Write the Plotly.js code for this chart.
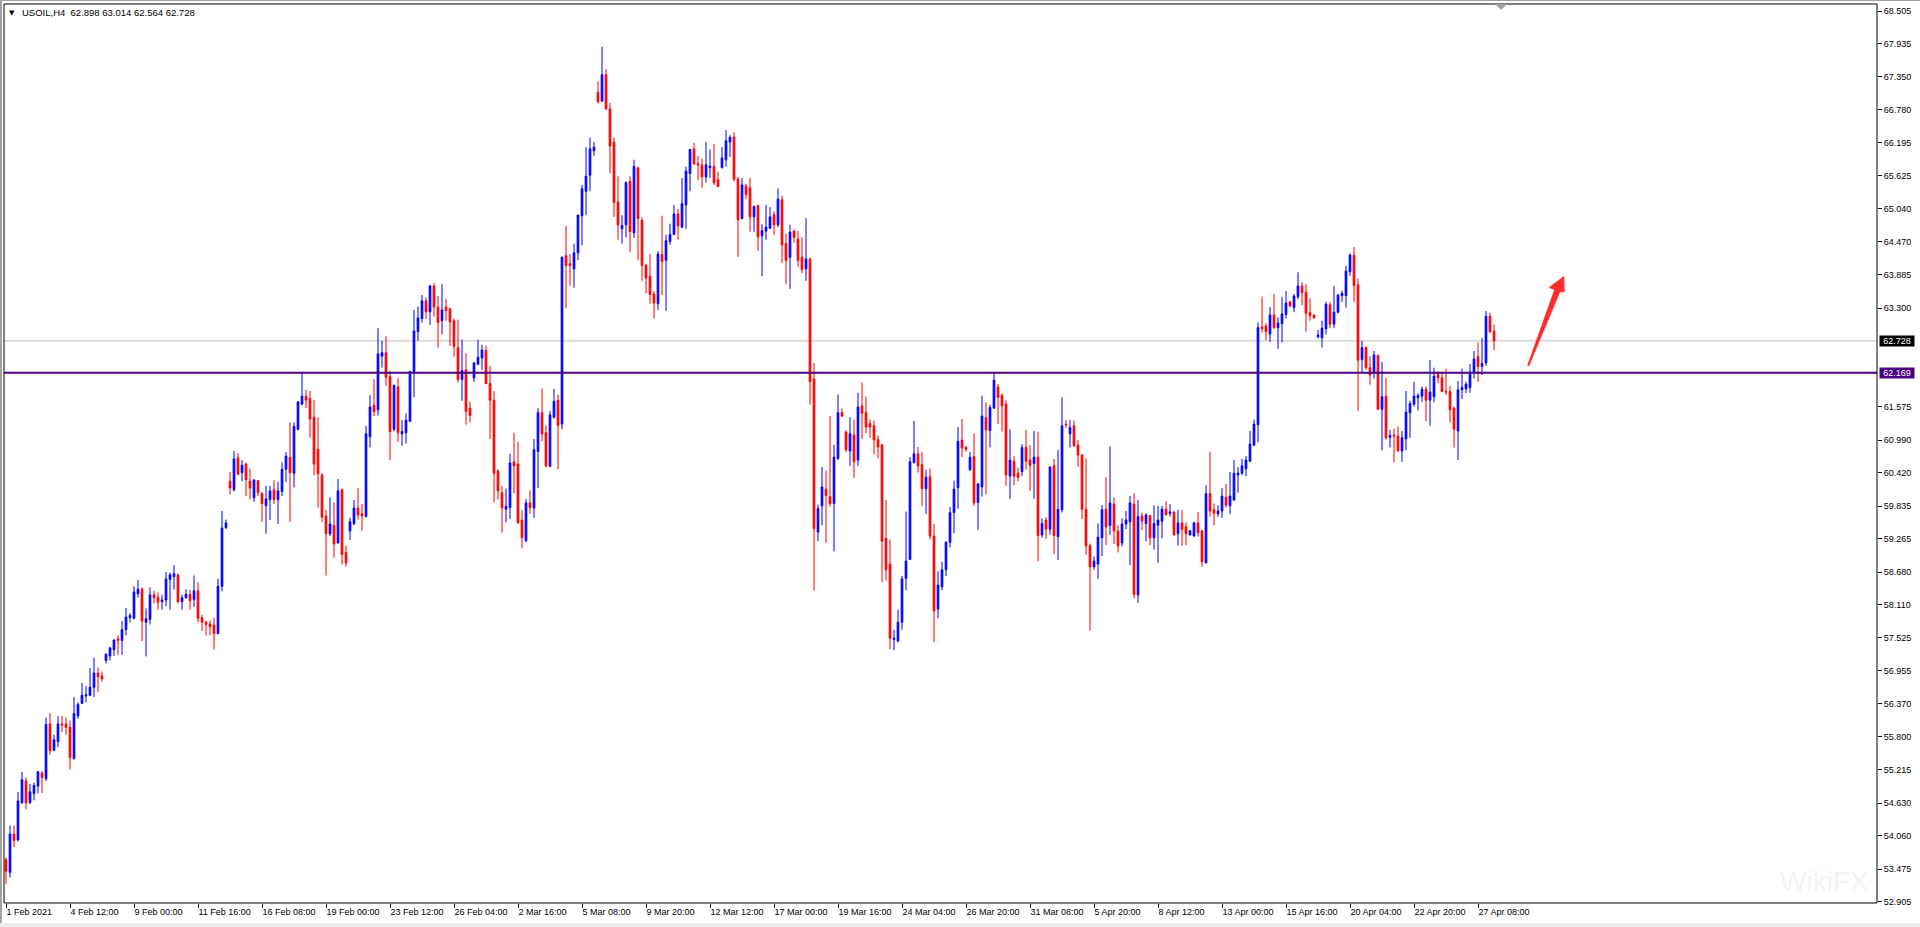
<!DOCTYPE html>
<html>
<head>
<meta charset="utf-8">
<script src="https://cdn.plot.ly/plotly-3.0.1.min.js"></script>
<style>
html,body{margin:0;padding:0;background:#ffffff;overflow:hidden;}
#chart{width:1920px;height:927px;}
</style>
</head>
<body>
<div id="chart"></div>
<script>
// ---- chart data (USOIL, H4 candles) ----
const symbolName = "USOIL,H4";

const openPrices = [
53.64,53.42,54.09,53.99,54.64,55.02,54.64,54.80,54.93,55.16,
55.06,56.02,55.56,55.71,56.02,56.02,55.96,55.41,56.16,56.38,
56.51,56.52,56.66,56.91,56.86,57.13,57.21,57.32,57.51,57.48,
57.67,57.88,57.87,58.30,58.38,57.80,57.85,58.28,58.24,58.16,
58.19,58.55,58.60,58.63,58.16,58.23,58.28,58.20,58.35,57.88,
57.80,57.77,57.75,57.60,58.43,59.46,60.27,60.12,60.68,60.42,
60.57,60.27,59.98,60.28,60.06,59.84,59.95,60.12,59.95,60.09,
60.48,60.69,60.41,61.18,61.62,61.76,61.72,61.39,60.83,60.38,
59.66,59.35,59.50,59.19,60.12,59.02,59.40,59.53,59.80,59.70,
59.65,61.05,61.60,61.52,62.46,62.52,62.10,61.18,61.92,61.10,
61.12,61.32,62.19,62.89,63.12,63.43,63.24,63.69,63.32,63.08,
63.32,63.29,63.08,62.61,62.05,62.22,61.55,62.08,62.32,62.43,
62.56,61.98,61.69,60.45,60.07,59.78,59.81,60.61,60.57,59.59,
59.23,59.89,59.80,60.79,61.47,61.12,60.53,61.39,61.69,61.27,
64.22,64.08,63.99,64.27,64.92,65.35,65.63,66.06,67.08,66.93,
67.39,66.79,66.21,65.16,64.69,64.76,65.52,64.62,65.76,64.84,
64.05,63.86,63.55,63.38,64.24,64.14,64.47,64.59,64.95,64.72,
65.11,65.66,66.09,65.83,65.81,65.60,65.76,65.78,65.55,65.76,
65.90,66.21,66.30,65.56,64.87,65.44,65.41,64.90,65.10,64.57,
64.65,64.70,64.94,64.76,65.20,64.43,64.19,64.65,64.51,64.19,
63.99,64.16,62.06,59.38,59.84,60.13,60.00,59.88,60.67,61.47,
61.13,60.80,61.08,60.64,61.59,61.47,61.28,61.24,61.00,60.91,
59.27,58.82,57.50,57.47,57.80,58.57,58.90,60.60,60.75,60.56,
60.14,60.35,59.31,58.03,58.42,58.72,59.20,59.72,60.16,60.99,
60.86,60.47,60.70,59.90,60.17,61.38,61.16,61.55,61.92,61.77,
61.62,60.36,60.62,60.41,60.44,60.86,60.64,60.58,60.69,59.33,
59.59,59.43,60.54,59.30,59.77,61.27,61.10,61.24,60.90,60.73,
59.78,59.14,58.77,58.82,59.28,59.78,59.49,59.87,59.40,59.19,
59.52,59.56,59.87,58.28,59.66,59.53,59.67,59.28,59.50,59.57,
59.78,59.70,59.73,59.35,59.54,59.47,59.33,59.31,59.54,59.40,
58.84,60.05,59.77,59.70,59.75,59.99,59.84,59.94,60.38,60.41,
60.49,60.62,60.90,61.26,62.97,62.99,62.85,63.18,62.96,63.03,
63.19,63.41,63.31,63.50,63.69,63.58,63.22,63.18,62.80,62.78,
62.94,63.36,63.02,63.23,63.52,63.52,63.94,64.23,63.71,62.40,
62.61,62.26,62.17,62.47,61.53,61.76,61.04,61.08,61.06,60.80,
61.01,61.47,61.62,61.73,61.76,61.88,61.69,61.75,62.14,62.08,
61.84,61.84,61.55,61.15,61.87,61.89,61.91,62.17,62.45,62.28,
62.34,63.16,62.898
];

const highPrices = [
53.68,54.24,54.24,54.83,55.18,55.08,54.97,54.99,55.19,55.19,
56.13,56.21,55.83,56.16,56.16,56.13,56.08,56.49,56.40,56.74,
56.68,57.00,57.18,57.01,56.94,57.25,57.37,57.50,57.57,57.82,
58.05,57.96,58.43,58.54,58.41,58.04,58.41,58.35,58.32,58.28,
58.68,58.67,58.80,58.65,58.28,58.38,58.37,58.62,58.50,57.93,
57.83,57.83,57.88,58.56,59.75,59.60,60.43,60.80,60.76,60.64,
60.60,60.49,60.31,60.29,60.07,60.19,60.19,60.29,60.26,60.60,
60.78,61.30,61.30,61.67,62.19,61.87,61.85,61.69,61.39,60.41,
59.77,59.99,59.90,60.31,60.14,59.14,59.63,59.94,60.15,59.87,
61.24,61.78,62.06,62.95,62.73,62.81,62.20,61.96,62.08,61.34,
61.46,62.20,63.27,63.33,63.53,63.49,63.71,63.74,63.51,63.72,
63.46,63.31,63.12,63.10,62.75,62.51,61.66,62.36,62.75,62.66,
62.64,62.29,61.85,60.48,60.19,60.14,60.75,61.12,60.96,59.76,
59.96,60.11,61.01,61.55,61.89,61.25,61.50,61.89,61.79,64.21,
64.74,64.25,64.43,64.94,65.46,66.12,66.29,66.21,67.27,67.88,
67.49,66.90,66.29,65.61,64.93,65.52,65.61,65.90,65.78,64.89,
64.08,64.25,63.60,64.30,64.92,64.59,64.78,65.11,65.04,65.58,
65.78,66.09,66.20,65.97,65.92,66.21,66.08,66.18,65.69,66.12,
66.42,66.33,66.38,65.60,65.58,65.48,65.58,65.10,65.11,64.77,
65.11,65.07,65.00,65.40,65.27,64.61,64.76,64.68,64.65,64.54,
64.88,64.19,62.34,59.86,60.52,60.46,61.41,60.91,61.79,61.54,
61.16,61.39,61.35,61.82,62.00,61.75,61.35,61.33,61.07,60.92,
59.94,59.25,57.67,58.02,58.61,59.74,60.69,61.33,60.87,60.78,
60.47,60.49,59.52,58.69,58.86,59.22,59.82,60.28,61.22,61.36,
60.89,60.78,61.11,60.24,61.77,61.65,61.61,62.17,61.97,61.81,
61.69,61.18,60.71,60.51,60.92,61.17,60.90,61.15,61.13,59.62,
59.64,60.53,60.66,60.82,61.74,61.34,61.34,61.33,60.99,60.74,
60.67,59.18,58.95,59.53,59.85,60.34,60.88,59.98,59.50,59.62,
59.75,60.01,60.06,59.94,59.72,59.71,59.68,59.85,59.84,59.84,
59.92,59.87,59.74,59.77,59.77,59.55,59.42,59.56,59.73,59.42,
60.20,60.78,59.88,59.85,60.15,60.22,60.43,60.64,60.52,60.66,
60.71,61.15,61.35,63.05,63.50,63.04,63.32,63.55,63.14,63.50,
63.60,63.43,63.55,63.93,63.76,63.72,63.48,63.19,62.92,63.08,
63.41,63.41,63.69,63.55,63.61,64.04,64.26,64.37,63.82,62.73,
62.63,62.46,62.55,62.49,62.36,62.08,61.17,61.19,61.23,61.15,
61.85,61.68,62.01,61.81,61.93,61.93,62.39,62.26,62.19,62.16,
62.24,61.94,61.58,62.03,62.24,62.01,62.32,62.55,62.70,62.78,
63.25,63.22,63.014
];

const lowPrices = [
53.22,53.33,53.86,53.96,54.62,54.52,54.62,54.68,54.80,54.81,
55.02,55.48,55.54,55.61,55.88,55.83,55.22,55.40,56.11,56.37,
56.40,56.51,56.49,56.58,56.76,57.08,57.13,57.21,57.23,57.23,
57.57,57.80,57.85,58.23,57.47,57.20,57.76,58.13,58.02,58.02,
58.08,58.02,58.37,58.13,58.02,58.21,58.02,58.07,57.80,57.65,
57.57,57.57,57.32,57.59,58.34,59.43,60.04,60.09,60.38,60.27,
60.01,59.95,59.91,60.01,59.56,59.35,59.59,59.87,59.52,60.01,
60.26,59.56,60.16,61.16,61.60,61.55,61.03,60.37,59.81,59.56,
58.62,59.31,58.93,59.18,58.81,58.77,59.24,59.50,59.60,59.40,
59.64,60.86,61.41,61.42,62.26,61.94,60.64,61.14,60.96,60.89,
60.93,61.31,61.74,62.73,63.05,63.11,63.01,63.15,62.61,62.84,
63.08,62.64,62.45,62.00,61.68,61.26,61.30,62.01,62.31,62.22,
61.97,61.01,59.90,59.95,59.37,59.55,59.61,60.06,59.53,59.10,
59.20,59.70,59.63,60.15,60.97,60.51,60.52,61.37,60.48,61.18,
63.30,63.69,63.66,64.14,64.40,64.93,65.35,65.97,66.89,66.91,
66.78,65.66,64.90,64.50,64.43,64.54,64.28,64.53,64.14,63.78,
63.56,63.38,63.12,63.27,63.53,63.25,64.41,64.58,64.50,64.71,
64.69,65.35,65.81,65.54,65.41,65.50,65.58,65.46,65.42,65.75,
65.78,65.95,65.52,64.20,64.86,65.21,64.64,64.64,64.30,63.86,
64.50,64.69,64.58,64.72,64.09,63.72,63.64,64.45,64.02,63.91,
63.78,61.61,58.35,59.22,59.50,59.19,59.82,59.04,60.64,61.39,
60.78,60.54,60.33,60.54,61.01,61.11,61.03,60.74,60.67,58.50,
58.53,57.33,57.31,57.45,57.67,58.36,58.89,60.58,60.42,59.83,
59.70,59.25,57.45,57.87,58.36,58.61,59.11,59.36,59.79,60.69,
60.79,60.45,59.84,59.42,60.00,60.04,60.86,61.54,61.27,61.14,
60.19,59.96,60.20,60.27,60.36,60.47,60.10,59.96,58.87,59.28,
59.26,59.33,58.99,58.89,59.72,61.20,60.86,60.87,60.52,59.61,
58.98,57.65,58.72,58.56,58.96,59.15,59.33,59.17,59.02,59.13,
59.43,58.80,58.22,58.14,59.42,59.22,59.15,59.07,58.84,59.27,
59.67,59.65,59.32,59.14,59.14,59.15,59.32,59.30,59.30,58.77,
58.83,59.65,59.50,59.65,59.63,59.81,59.70,59.93,60.07,60.38,
60.36,60.61,60.89,60.95,62.87,62.74,62.71,62.94,62.59,62.70,
63.12,63.32,63.23,63.46,63.35,62.89,63.08,63.12,62.77,62.61,
62.84,62.95,62.95,63.21,63.41,63.31,63.87,63.41,61.50,62.18,
62.22,61.96,62.07,61.52,60.81,61.00,60.86,60.60,60.79,60.61,
60.81,61.03,61.58,61.51,61.66,61.32,61.24,61.65,61.99,61.83,
61.78,61.30,60.86,60.64,61.71,61.81,61.82,62.07,62.01,62.13,
62.29,62.86,62.564
];

const closePrices = [
53.44,54.09,53.98,54.67,55.04,54.64,54.83,54.94,55.18,55.08,
56.01,55.55,55.74,56.02,56.00,55.96,55.43,56.20,56.36,56.52,
56.53,56.66,56.91,56.85,56.81,57.24,57.35,57.49,57.48,57.67,
57.89,57.92,58.33,58.38,57.82,57.86,58.28,58.23,58.15,58.19,
58.56,58.63,58.65,58.16,58.23,58.29,58.18,58.35,57.87,57.80,
57.76,57.72,57.60,58.43,59.45,59.54,60.15,60.66,60.39,60.55,
60.30,60.15,60.29,60.07,59.88,59.96,60.10,59.95,60.10,60.48,
60.71,60.42,61.23,61.66,61.76,61.69,61.36,60.57,60.40,59.64,
59.35,59.52,59.17,60.10,58.99,58.84,59.56,59.80,59.68,59.66,
61.10,61.57,61.49,62.50,62.52,62.09,61.14,61.95,61.12,61.14,
61.34,62.19,62.90,63.13,63.43,63.24,63.69,63.32,63.05,63.27,
63.26,63.06,62.63,62.05,62.21,61.49,61.42,62.34,62.44,62.57,
61.98,61.69,60.41,60.10,59.80,59.83,60.59,60.54,59.54,59.28,
59.89,59.81,60.82,61.47,61.10,60.54,61.43,61.67,61.25,64.19,
64.05,64.05,64.27,64.93,65.39,65.61,66.09,66.12,66.91,67.39,
66.79,66.14,65.15,64.76,64.75,65.50,64.64,65.78,64.87,64.05,
63.83,63.54,63.39,64.25,64.12,64.48,64.59,64.95,64.74,65.13,
65.70,66.08,65.83,65.81,65.60,65.81,65.79,65.50,65.43,65.93,
66.23,66.29,65.56,64.85,65.46,65.29,64.90,65.08,64.55,64.66,
64.72,64.90,64.76,65.21,64.41,64.14,64.63,64.54,64.14,63.98,
64.16,62.01,59.44,59.79,60.17,60.02,59.88,60.69,61.47,61.41,
60.82,61.10,60.61,61.57,61.46,61.22,61.22,60.99,60.87,59.22,
58.72,57.52,57.52,57.80,58.56,58.87,60.61,60.75,60.54,60.14,
60.34,59.31,58.00,58.45,58.72,59.20,59.72,60.13,60.97,60.85,
60.83,60.69,59.89,60.22,61.41,61.17,61.56,62.04,61.74,61.59,
60.38,60.64,60.36,60.34,60.86,60.62,60.55,60.69,59.32,59.53,
59.43,60.52,59.32,59.78,61.24,61.26,61.21,60.89,60.73,59.78,
59.14,58.77,58.87,59.29,59.77,59.47,59.89,59.40,59.14,59.52,
59.59,59.89,58.29,59.65,59.57,59.68,59.28,59.53,59.59,59.78,
59.68,59.73,59.33,59.54,59.43,59.35,59.40,59.54,59.37,58.86,
60.05,59.75,59.71,59.75,60.01,59.85,60.01,60.41,60.41,60.54,
60.64,60.92,61.27,62.96,62.94,62.89,63.18,62.96,63.04,63.20,
63.39,63.34,63.51,63.69,63.57,63.21,63.17,63.13,62.83,62.95,
63.37,63.02,63.23,63.53,63.56,63.95,64.23,63.70,62.39,62.61,
62.26,62.13,62.48,61.53,61.75,61.03,61.07,61.06,60.80,61.03,
61.48,61.63,61.76,61.77,61.88,61.69,61.83,62.11,62.08,61.84,
61.83,61.52,61.18,61.87,61.91,61.97,62.18,62.41,62.28,62.33,
63.16,62.89,62.728
];

const timeLabels = [
"1 Feb 2021","4 Feb 12:00","9 Feb 00:00","11 Feb 16:00","16 Feb 08:00","19 Feb 00:00",
"23 Feb 12:00","26 Feb 04:00","2 Mar 16:00","5 Mar 08:00","9 Mar 20:00","12 Mar 12:00",
"17 Mar 00:00","19 Mar 16:00","24 Mar 04:00","26 Mar 20:00","31 Mar 08:00","5 Apr 20:00",
"8 Apr 12:00","13 Apr 00:00","15 Apr 16:00","20 Apr 04:00","22 Apr 20:00","27 Apr 08:00"
];
const barsPerLabel = 16;

const priceTicks = [
68.505,67.935,67.350,66.780,66.195,65.625,65.040,64.470,63.885,63.300,
61.575,60.990,60.420,59.835,59.265,58.680,58.110,57.525,56.955,56.370,
55.800,55.215,54.630,54.060,53.475,52.905
];

const currentPrice = 62.728;   // last close (grey line)
const levelPrice = 62.169;     // horizontal support level (purple line)
const arrowTipPrice = 63.86;   // tip of the red arrow

// ---- build ----
const barIndex = openPrices.map((_, i) => i);
const tickIdx = timeLabels.map((_, i) => i * barsPerLabel);
const lastIdx = barIndex.length - 1;

const trace = {
  type: 'candlestick',
  x: barIndex,
  open: openPrices, high: highPrices, low: lowPrices, close: closePrices,
  increasing: {line: {color: '#0000ff', width: 1}, fillcolor: '#0000ff'},
  decreasing: {line: {color: '#ff0000', width: 1}, fillcolor: '#ff0000'},
  whiskerwidth: 0,
  hoverinfo: 'skip',
  showlegend: false
};

const FONT = 'Liberation Sans, Arial, sans-serif';

const layout = {
  width: 1920, height: 927,
  margin: {l: 4, r: 43, t: 4, b: 24, pad: 0},
  paper_bgcolor: '#ffffff',
  plot_bgcolor: '#ffffff',
  showlegend: false,
  boxgap: 0.4,
  font: {family: FONT, size: 9, color: '#000000'},
  xaxis: {
    type: 'linear',
    range: [-0.5, 467.75],
    tickmode: 'array',
    tickvals: tickIdx,
    ticktext: timeLabels,
    ticks: 'outside', ticklen: 4, tickwidth: 1, tickcolor: '#000000',
    ticklabelposition: 'outside right',
    tickfont: {family: FONT, size: 9, color: '#000000'},
    showgrid: false, zeroline: false, showline: false,
    rangeslider: {visible: false},
    fixedrange: true
  },
  yaxis: {
    side: 'right',
    range: [52.883, 68.628],
    tickmode: 'array',
    tickvals: priceTicks,
    ticktext: priceTicks.map(v => v.toFixed(3)),
    ticks: 'outside', ticklen: 4, tickwidth: 1, tickcolor: '#000000',
    tickfont: {family: FONT, size: 9, color: '#000000'},
    showgrid: false, zeroline: false, showline: false,
    fixedrange: true
  },
  shapes: [
    // last price line
    {type: 'line', xref: 'paper', x0: 0, x1: 1, yref: 'y', y0: currentPrice, y1: currentPrice,
     line: {color: '#c0c0c0', width: 1}, layer: 'below'},
    // support level
    {type: 'line', xref: 'paper', x0: 0, x1: 1, yref: 'y', y0: levelPrice, y1: levelPrice,
     line: {color: '#4b0082', width: 2}, layer: 'above'},
    // chart frame
    {type: 'rect', xref: 'paper', yref: 'paper', x0: 0, x1: 1, y0: 0, y1: 1,
     line: {color: '#000000', width: 1}, fillcolor: 'rgba(0,0,0,0)', layer: 'above'},
    // outer window edges
    {type: 'rect', xref: 'paper', yref: 'paper', x0: -0.00214, x1: 1.0235, y0: 1.0034, y1: 1.0045,
     line: {width: 0}, fillcolor: '#a0a0a0'},
    {type: 'rect', xref: 'paper', yref: 'paper', x0: -0.00214, x1: -0.0011, y0: -0.027, y1: 1.0045,
     line: {width: 0}, fillcolor: '#a0a0a0'},
    {type: 'rect', xref: 'paper', yref: 'paper', x0: -0.00214, x1: 1.0235, y0: -0.0268, y1: -0.0222,
     line: {width: 0}, fillcolor: '#ececec'},
    // chart shift marker
    {type: 'path', xref: 'x', yref: 'paper', xsizemode: 'pixel', ysizemode: 'pixel',
     xanchor: lastIdx + 1.8, yanchor: 1,
     path: 'M -6,0 L 6,0 L 0,-6 Z', fillcolor: '#a0a0a0', line: {width: 0}},
    // red arrow
    {type: 'path', xref: 'x', yref: 'y', xsizemode: 'pixel', ysizemode: 'pixel',
     xanchor: lastIdx + 17.5, yanchor: arrowTipPrice,
     path: 'M 0,0 L -15,-11.3 L -9.5,-13.5 L -36.5,-89 L -35,-89.5 L -4,-15.5 L 0.3,-15.7 Z',
     fillcolor: '#ff2a2a', line: {color: '#ff2a2a', width: 0.5}}
  ],
  annotations: [
    {xref: 'paper', yref: 'paper', x: 0, y: 1, xshift: 8, yshift: -8.5, xanchor: 'center', yanchor: 'middle',
     text: '\u25BC', showarrow: false, font: {family: 'DejaVu Sans', size: 7, color: '#000000'}},
    {xref: 'paper', yref: 'paper', x: 0, y: 1, xshift: 16, yshift: -8.5, xanchor: 'left', yanchor: 'middle',
     text: symbolName + '&nbsp;&nbsp;' + [openPrices[lastIdx], highPrices[lastIdx], lowPrices[lastIdx], closePrices[lastIdx]].map(v => v.toFixed(3)).join(' '),
     showarrow: false, font: {family: FONT, size: 9.5, color: '#000000'}},
    {xref: 'paper', yref: 'y', x: 1, y: currentPrice, xshift: 2, xanchor: 'left', yanchor: 'middle',
     text: currentPrice.toFixed(3), showarrow: false, bgcolor: '#000000', width: 34, height: 10, borderpad: 0,
     font: {family: FONT, size: 9, color: '#ffffff'}},
    {xref: 'paper', yref: 'y', x: 1, y: levelPrice, xshift: 2, xanchor: 'left', yanchor: 'middle',
     text: levelPrice.toFixed(3), showarrow: false, bgcolor: '#4b0082', width: 34, height: 10, borderpad: 0,
     font: {family: FONT, size: 9, color: '#ffffff'}},
    {xref: 'paper', yref: 'paper', x: 1, y: 0, xshift: -6, yshift: 4, xanchor: 'right', yanchor: 'bottom',
     text: 'WikiFX', showarrow: false, font: {family: FONT, size: 28, color: 'rgba(180,180,180,0.18)'}}
  ]
};

Plotly.newPlot('chart', [trace], layout, {staticPlot: true, displayModeBar: false, responsive: false});
</script>
</body>
</html>
